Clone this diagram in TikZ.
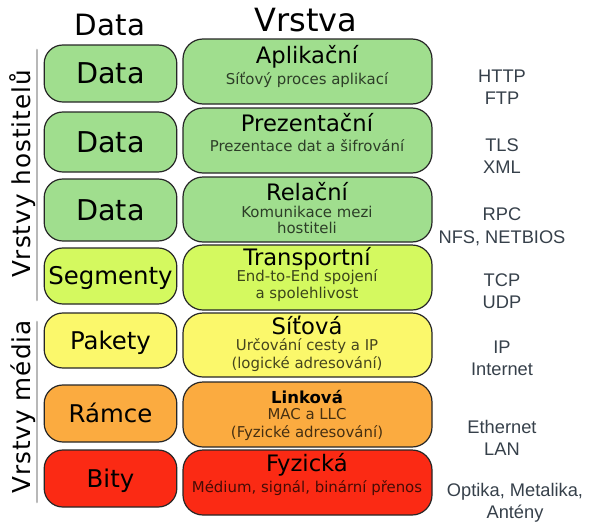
\documentclass[tikz,border=0pt]{standalone}
\usepackage{fontspec}
\setmainfont{DejaVu Sans}
\newfontfamily\libsans{Liberation Sans}
\newfontfamily\spacedsans[LetterSpace=4]{DejaVu Sans}
\definecolor{cgreen}{HTML}{A0DE8E}
\definecolor{cyg}{HTML}{D4F95F}
\definecolor{cyel}{HTML}{FBF86B}
\definecolor{corange}{HTML}{FBAB40}
\definecolor{cred}{HTML}{FB2A14}
\definecolor{labgray}{HTML}{36404A}
\tikzset{
  lbox/.style={draw=black!85, line width=0.9pt, rounded corners=14pt, minimum width=99.5pt, inner sep=0pt},
  rbox/.style={draw=black!85, line width=0.9pt, rounded corners=15pt, minimum width=186.75pt, inner sep=0pt},
  txt/.style={inner sep=0pt, text depth=0pt},
  bigtxt/.style={txt, text height=15.6pt, font=\fontsize{21.5}{25}\selectfont},
  segtxt/.style={txt, text height=13.4pt, font=\fontsize{18.3}{22}\selectfont},
  ttl/.style={txt, text height=12.4pt, font=\fontsize{17}{20}\selectfont},
  sub/.style={txt, text height=8.18pt, font=\fontsize{11.2}{13}\selectfont, text=black, text opacity=0.72},
  side/.style={txt, text height=9.9pt, font=\libsans\fontsize{13.7}{16}\selectfont, text=labgray},
  vlab/.style={txt, text height=13.5pt, font=\spacedsans\fontsize{18.5}{22}\selectfont, rotate=90},
  grayline/.style={draw=black!28, line width=2pt, line cap=round}
}
\begin{document}
\begin{tikzpicture}[x=0.75pt, y=-0.75pt]
\useasboundingbox (0,0) rectangle (600,525);
% headings
\node[txt, text height=16pt, font=\fontsize{22}{25}\selectfont] (hdata) at (110,25) {Data};
\node[txt, text height=17.5pt, font=\fontsize{24}{28}\selectfont] (hvrstva) at (306,20) {Vrstva};
% side labels and lines
\coordinate (g1a) at (37,50); \coordinate (g1b) at (37,300);
\coordinate (g2a) at (37,322); \coordinate (g2b) at (37,502);
\draw[grayline] (g1a) -- (g1b);
\draw[grayline] (g2a) -- (g2b);
\node[vlab] (vh) at (21,174) {Vrstvy hostitelů};
\node[vlab] (vm) at (22,407) {Vrstvy média};
% left boxes
\node[lbox, fill=cgreen, minimum height=42.75pt] (d1) at (110.5,73.5) {};
\node[lbox, fill=cgreen, minimum height=45pt] (d2) at (110.5,142) {};
\node[lbox, fill=cgreen, minimum height=46.5pt] (d3) at (110.5,210) {};
\node[lbox, fill=cyg, minimum height=42pt] (d4) at (110.5,276) {};
\node[lbox, fill=cyel, minimum height=41.25pt] (d5) at (110.5,340.5) {};
\node[lbox, fill=corange, minimum height=42.75pt] (d6) at (110.5,413.5) {};
\node[lbox, fill=cred, minimum height=42.75pt] (d7) at (110.5,478.5) {};
\node[bigtxt] (t1) at (d1) {Data};
\node[bigtxt] (t2) at (d2) {Data};
\node[bigtxt] (t3) at (d3) {Data};
\node[segtxt] (t4) at (d4) {Segmenty};
\node[segtxt] (t5) at (d5) {Pakety};
\node[segtxt] (t6) at (d6) {Rámce};
\node[segtxt] (t7) at (d7) {Bity};
% right boxes
\node[rbox, fill=cgreen, minimum height=48.75pt] (r1) at (307.5,71.5) {};
\node[rbox, fill=cgreen, minimum height=48.75pt] (r2) at (307.5,140.5) {};
\node[rbox, fill=cgreen, minimum height=48.75pt] (r3) at (307.5,209.5) {};
\node[rbox, fill=cyg, minimum height=48.75pt] (r4) at (307.5,277.5) {};
\node[rbox, fill=cyel, minimum height=48pt] (r5) at (307.5,345) {};
\node[rbox, fill=corange, minimum height=48.75pt] (r6) at (307.5,414.5) {};
\node[rbox, fill=cred, minimum height=48.75pt] (r7) at (307.5,482.5) {};
% right box texts
\node[ttl] (a1) at (307,55) {Aplikační};
\node[sub] (a2) at (307,79) {Síťový proces aplikací};
\node[ttl] (b1) at (307,123) {Prezentační};
\node[sub] (b2) at (307,146) {Prezentace dat a šifrování};
\node[ttl] (c1) at (307,192) {Relační};
\node[sub] (c2) at (307,212) {Komunikace mezi};
\node[sub] (c3) at (307,228) {hostiteli};
\node[ttl] (e1) at (307,257.5) {Transportní};
\node[sub] (e2) at (307,276.5) {End-to-End spojení};
\node[sub] (e3) at (307,293) {a spolehlivost};
\node[ttl] (f1) at (307,326.5) {Síťová};
\node[sub] (f2) at (307,345) {Určování cesty a IP};
\node[sub] (f3) at (307,363) {(logické adresování)};
\node[txt, text height=9.05pt, font=\bfseries\fontsize{12.4}{15}\selectfont] (g1) at (307,397) {Linková};
\node[sub] (g2) at (307,414) {MAC a LLC};
\node[sub] (g3) at (307,432) {(Fyzické adresování)};
\node[ttl] (h1) at (307,463) {Fyzická};
\node[sub] (h2) at (307,487) {Médium, signál, binární přenos};
% protocols
\node[side] (p1) at (502,76) {HTTP};
\node[side] (p2) at (502,98) {FTP};
\node[side] (p3) at (502,145) {TLS};
\node[side] (p4) at (502,167) {XML};
\node[side] (p5) at (502,214) {RPC};
\node[side] (p6) at (502,237) {NFS, NETBIOS};
\node[side] (p7) at (502,280) {TCP};
\node[side] (p8) at (502,302) {UDP};
\node[side] (p9) at (502,347) {IP};
\node[side] (p10) at (502,369) {Internet};
\node[side] (p11) at (502,427) {Ethernet};
\node[side] (p12) at (502,449) {LAN};
\node[side] (p13) at (515,490) {Optika, Metalika,};
\node[side] (p14) at (515,512) {Antény};
\end{tikzpicture}
\end{document}
